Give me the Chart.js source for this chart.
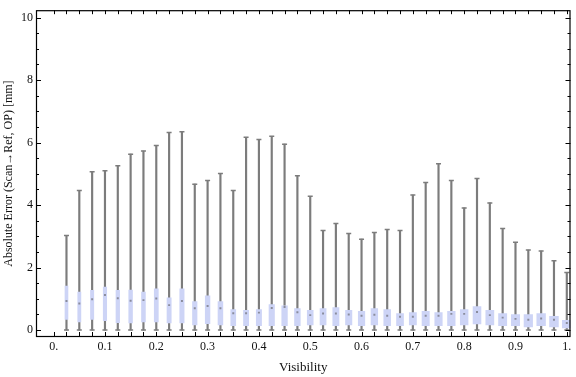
<!DOCTYPE html>
<html>
<head>
<meta charset="utf-8">
<script src="https://cdn.jsdelivr.net/npm/chart.js@4.4.1/dist/chart.umd.min.js"></script>
<style>
html, body { margin: 0; padding: 0; background: #fff; }
#wrap { width: 576px; height: 377px; }
</style>
</head>
<body>
<div id="wrap"><canvas id="errorPlot"></canvas></div>
<script>
// Visibility bins
const visibility = [0.025, 0.05, 0.075, 0.1, 0.125, 0.15, 0.175, 0.2, 0.225, 0.25,
    0.275, 0.3, 0.325, 0.35, 0.375, 0.4, 0.425, 0.45, 0.475, 0.5,
    0.525, 0.55, 0.575, 0.6, 0.625, 0.65, 0.675, 0.7, 0.725, 0.75,
    0.775, 0.8, 0.825, 0.85, 0.875, 0.9, 0.925, 0.95, 0.975, 1.0];

// Box whisker stats [mm]
const whiskerLow = [0, 0, 0, 0, 0, 0, 0, 0, 0, 0,
    0, 0, 0, 0, 0, 0, 0, 0, 0, 0,
    0, 0, 0, 0, 0, 0, 0, 0, 0, 0,
    0, 0, 0, 0, 0, 0, 0, 0, 0, 0];
const whiskerHigh = [3.03, 4.47, 5.07, 5.10, 5.26, 5.63, 5.73, 5.91, 6.32, 6.35,
    4.67, 4.79, 5.01, 4.47, 6.17, 6.10, 6.20, 5.95, 4.94, 4.28,
    3.19, 3.41, 3.09, 2.91, 3.12, 3.22, 3.19, 4.32, 4.72, 5.32,
    4.79, 3.91, 4.85, 4.07, 3.25, 2.81, 2.56, 2.53, 2.22, 1.84];
const quartileLow = [0.34, 0.26, 0.34, 0.30, 0.24, 0.23, 0.26, 0.26, 0.23, 0.23,
    0.17, 0.21, 0.17, 0.14, 0.14, 0.14, 0.14, 0.14, 0.14, 0.17,
    0.17, 0.14, 0.17, 0.14, 0.17, 0.14, 0.14, 0.17, 0.14, 0.14,
    0.14, 0.17, 0.20, 0.17, 0.14, 0.14, 0.10, 0.14, 0.10, 0.07];
const quartileHigh = [1.41, 1.22, 1.27, 1.38, 1.27, 1.28, 1.22, 1.32, 1.03, 1.32,
    0.91, 1.10, 0.91, 0.66, 0.63, 0.66, 0.82, 0.78, 0.69, 0.63,
    0.69, 0.72, 0.63, 0.60, 0.69, 0.66, 0.53, 0.56, 0.60, 0.56,
    0.60, 0.66, 0.75, 0.63, 0.53, 0.50, 0.50, 0.53, 0.44, 0.31];
const medians = [0.93, 0.85, 0.99, 1.12, 1.02, 0.94, 0.96, 1.01, 0.80, 0.93,
    0.70, 0.77, 0.70, 0.54, 0.54, 0.56, 0.71, 0.74, 0.57, 0.48,
    0.53, 0.53, 0.50, 0.46, 0.49, 0.46, 0.43, 0.43, 0.46, 0.46,
    0.52, 0.52, 0.58, 0.48, 0.40, 0.36, 0.33, 0.37, 0.33, 0.23];

// Tick labels
const xTickValues = [0, 0.1, 0.2, 0.3, 0.4, 0.5, 0.6, 0.7, 0.8, 0.9, 1];
const xTickLabels = ['0.', '0.1', '0.2', '0.3', '0.4', '0.5', '0.6', '0.7', '0.8', '0.9', '1.'];
const yTickValues = [0, 2, 4, 6, 8, 10];
const yTickLabels = ['0', '2', '4', '6', '8', '10'];

const whiskerGray = '#7c7c7c';
const boxBlue = 'rgb(205, 212, 246)';
const serif = '"Liberation Serif", "DejaVu Serif", serif';

// frame with inward ticks on all four sides (Mathematica style)
const frameTicks = {
    id: 'frameTicks',
    afterDatasetsDraw(chart) {
        const {ctx, chartArea: a, scales: {x, y}} = chart;
        ctx.save();
        ctx.strokeStyle = '#000';
        ctx.lineWidth = 1;
        ctx.beginPath();
        for (let i = 0; i <= 40; i++) {
            const px = Math.round(x.getPixelForValue(i / 40)) + 0.5;
            ctx.moveTo(px, a.bottom); ctx.lineTo(px, a.bottom - 5);
            ctx.moveTo(px, a.top); ctx.lineTo(px, a.top + 4);
        }
        for (let i = 0; i <= 20; i++) {
            const py = Math.round(y.getPixelForValue(i / 2)) + 0.5;
            const len = i % 4 === 0 ? 5 : 3;
            ctx.moveTo(a.left, py); ctx.lineTo(a.left + len, py);
            ctx.moveTo(a.right, py); ctx.lineTo(a.right - len, py);
        }
        ctx.stroke();
        ctx.lineWidth = 1.2;
        ctx.strokeRect(a.left + 0.5, a.top + 0.5, a.width - 1, a.height - 1);
        ctx.restore();
    }
};

// boxes get wider towards high visibility, like in the original plot
const boxWidthRamp = {
    id: 'boxWidthRamp',
    afterDatasetsUpdate(chart) {
        const bars = chart.getDatasetMeta(1).data;
        bars.forEach((bar, i) => { bar.width = 3 + 6 * i / (bars.length - 1); });
    }
};

const pts = (vals) => visibility.map((v, i) => ({x: v, y: vals[i]}));
const ranges = (lo, hi) => visibility.map((v, i) => ({x: v, y: [lo[i], hi[i]]}));

new Chart(document.getElementById('errorPlot'), {
    type: 'bar',
    data: {
        datasets: [
            {
                label: 'whisker',
                data: ranges(whiskerLow, whiskerHigh),
                backgroundColor: whiskerGray,
                barThickness: 1.5,
                grouped: false,
                order: 4
            },
            {
                label: 'box',
                data: ranges(quartileLow, quartileHigh),
                backgroundColor: boxBlue,
                barThickness: 6,
                grouped: false,
                order: 3
            },
            {
                type: 'scatter',
                label: 'caps',
                data: pts(whiskerHigh).concat(pts(whiskerLow)),
                pointStyle: 'line',
                radius: 2.5,
                borderWidth: 1.5,
                borderColor: whiskerGray,
                order: 2
            },
            {
                type: 'scatter',
                label: 'median',
                data: pts(medians),
                pointStyle: 'rect',
                radius: 1.4,
                borderWidth: 0,
                backgroundColor: '#8a8c9c',
                order: 1
            }
        ]
    },
    options: {
        responsive: true,
        maintainAspectRatio: false,
        animation: false,
        layout: {padding: {top: 4, right: 1, left: 0, bottom: 0}},
        plugins: {
            legend: {display: false},
            tooltip: {enabled: false}
        },
        scales: {
            x: {
                type: 'linear',
                offset: false,
                min: -0.0344,
                max: 1.0072,
                grid: {display: false, drawTicks: false},
                border: {display: false},
                afterBuildTicks: (s) => { s.ticks = xTickValues.map(v => ({value: v})); },
                afterFit: (s) => { s.height = 40; },
                ticks: {
                    autoSkip: false,
                    maxRotation: 0,
                    padding: 3,
                    color: '#111',
                    font: {family: serif, size: 12},
                    callback: (v) => xTickLabels[xTickValues.indexOf(v)]
                },
                title: {
                    display: true,
                    text: 'Visibility',
                    color: '#111',
                    font: {family: serif, size: 13},
                    padding: {top: 2, bottom: 2}
                }
            },
            y: {
                min: -0.22,
                max: 10.235,
                grid: {display: false, drawTicks: false},
                border: {display: false},
                afterBuildTicks: (s) => { s.ticks = yTickValues.map(v => ({value: v})); },
                afterFit: (s) => { s.width = 36; },
                ticks: {
                    padding: 3,
                    color: '#111',
                    font: {family: serif, size: 12},
                    callback: (v) => yTickLabels[yTickValues.indexOf(v)]
                },
                title: {
                    display: true,
                    text: 'Absolute Error (Scan\u2192Ref, OP) [mm]',
                    color: '#111',
                    font: {family: serif, size: 12},
                    padding: {top: 2, bottom: 2}
                }
            }
        }
    },
    plugins: [frameTicks, boxWidthRamp]
});
</script>
</body>
</html>
